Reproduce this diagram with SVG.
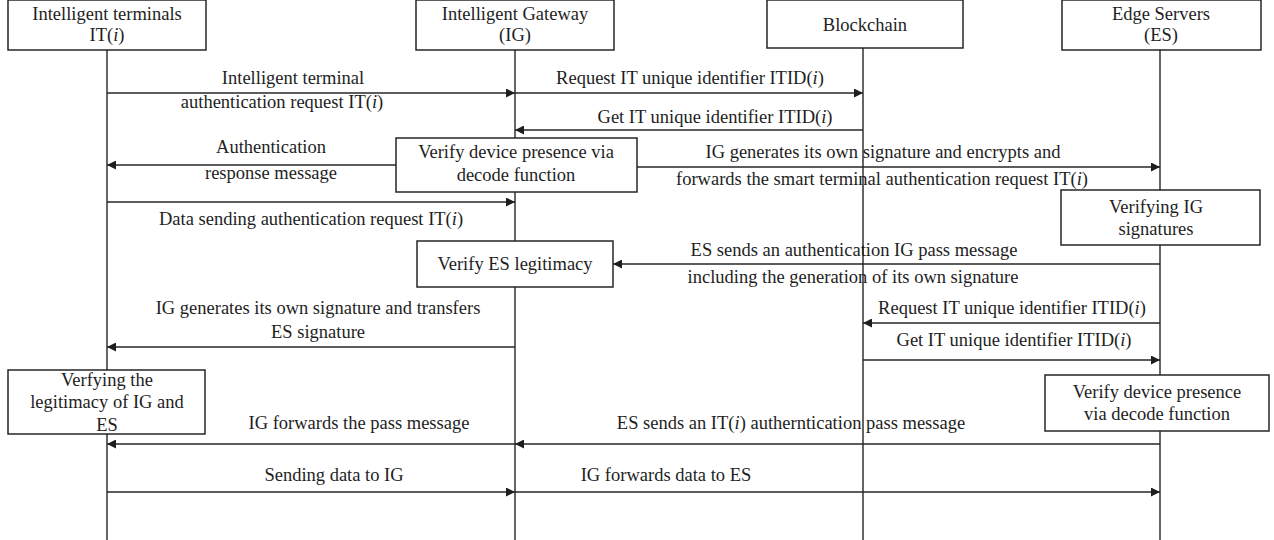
<svg xmlns="http://www.w3.org/2000/svg" width="1274" height="540" viewBox="0 0 1274 540">
  <defs>
    <style>
      .box { fill: #ffffff; stroke: #262626; stroke-width: 1.5; }
      .life { stroke: #333333; stroke-width: 1.5; fill: none; }
      .msg { stroke: #262626; stroke-width: 1.5; fill: none; marker-end: url(#head); }
      text { font-family: "Liberation Serif", "Times New Roman", serif; font-size: 18.5px; fill: #1e1e1e; text-anchor: middle; }
      .it { font-style: italic; }
    </style>
    <marker id="head" viewBox="0 0 10 10" refX="10" refY="5" markerWidth="9" markerHeight="9" markerUnits="userSpaceOnUse" orient="auto">
      <path d="M0,0 L10,5 L0,10 z" fill="#1e1e1e"/>
    </marker>
  </defs>

  <rect width="1274" height="540" fill="#ffffff"/>

  <!-- lifelines -->
  <g id="lifelines">
    <line class="life" x1="107" y1="50" x2="107" y2="540"/>
    <line class="life" x1="515" y1="50" x2="515" y2="540"/>
    <line class="life" x1="863" y1="48" x2="863" y2="540"/>
    <line class="life" x1="1160" y1="50" x2="1160" y2="540"/>
  </g>

  <!-- participants -->
  <g id="it-terminals">
    <rect class="box" x="8" y="0" width="198" height="50"/>
    <text x="107" y="20">Intelligent terminals</text>
    <text x="107" y="41">IT(<tspan class="it">i</tspan>)</text>
  </g>
  <g id="ig-gateway">
    <rect class="box" x="416" y="0" width="198" height="50"/>
    <text x="515" y="20">Intelligent Gateway</text>
    <text x="515" y="41">(IG)</text>
  </g>
  <g id="blockchain">
    <rect class="box" x="767" y="0" width="196" height="48"/>
    <text x="865" y="31">Blockchain</text>
  </g>
  <g id="edge-servers">
    <rect class="box" x="1062" y="0" width="199" height="50"/>
    <text x="1161" y="20">Edge Servers</text>
    <text x="1161" y="41">(ES)</text>
  </g>

  <!-- messages -->
  <g id="connectors">
    <line class="msg" x1="107" y1="93" x2="515" y2="93"/>
    <line class="msg" x1="515" y1="93" x2="863" y2="93"/>
    <line class="msg" x1="863" y1="130" x2="515" y2="130"/>
    <line class="msg" x1="396" y1="165" x2="107" y2="165"/>
    <line class="msg" x1="637" y1="167" x2="1160" y2="167"/>
    <line class="msg" x1="107" y1="202" x2="515" y2="202"/>
    <line class="msg" x1="1160" y1="264" x2="613" y2="264"/>
    <line class="msg" x1="515" y1="347" x2="107" y2="347"/>
    <line class="msg" x1="1160" y1="323" x2="863" y2="323"/>
    <line class="msg" x1="863" y1="360" x2="1160" y2="360"/>
    <line class="msg" x1="1160" y1="444" x2="515" y2="444"/>
    <line class="msg" x1="515" y1="444" x2="107" y2="444"/>
    <line class="msg" x1="107" y1="492" x2="515" y2="492"/>
    <line class="msg" x1="515" y1="492" x2="1160" y2="492"/>
  </g>

  <!-- message labels -->
  <g id="labels">
    <text x="293" y="84">Intelligent terminal</text>
    <text x="282" y="108">authentication request IT(<tspan class="it">i</tspan>)</text>
    <text x="690" y="84">Request IT unique identifier ITID(<tspan class="it">i</tspan>)</text>
    <text x="715" y="123">Get IT unique identifier ITID(<tspan class="it">i</tspan>)</text>
    <text x="271" y="153">Authentication</text>
    <text x="271" y="179">response message</text>
    <text x="883" y="158">IG generates its own signature and encrypts and</text>
    <text x="882" y="185">forwards the smart terminal authentication request IT(<tspan class="it">i</tspan>)</text>
    <text x="311" y="225">Data sending authentication request IT(<tspan class="it">i</tspan>)</text>
    <text x="854" y="256">ES sends an authentication IG pass message</text>
    <text x="853" y="283">including the generation of its own signature</text>
    <text x="318" y="314">IG generates its own signature and transfers</text>
    <text x="318" y="338">ES signature</text>
    <text x="1012" y="314">Request IT unique identifier ITID(<tspan class="it">i</tspan>)</text>
    <text x="1014" y="346">Get IT unique identifier ITID(<tspan class="it">i</tspan>)</text>
    <text x="359" y="429">IG forwards the pass message</text>
    <text x="791" y="429">ES sends an IT(<tspan class="it">i</tspan>) autherntication pass message</text>
    <text x="334" y="481">Sending data to IG</text>
    <text x="666" y="481">IG forwards data to ES</text>
  </g>

  <!-- activity boxes -->
  <g id="ig-verify-device">
    <rect class="box" x="396" y="138" width="241" height="54"/>
    <text x="516" y="158">Verify device presence via</text>
    <text x="516" y="181">decode function</text>
  </g>
  <g id="es-verify-ig">
    <rect class="box" x="1061" y="190" width="199" height="55"/>
    <text x="1156" y="213">Verifying IG</text>
    <text x="1156" y="235">signatures</text>
  </g>
  <g id="ig-verify-es">
    <rect class="box" x="417" y="241" width="196" height="46"/>
    <text x="515" y="270">Verify ES legitimacy</text>
  </g>
  <g id="it-verify-ig-es">
    <rect class="box" x="8" y="370" width="197" height="64"/>
    <text x="107" y="386">Verfying the</text>
    <text x="107" y="408">legitimacy of IG and</text>
    <text x="107" y="431">ES</text>
  </g>
  <g id="es-verify-device">
    <rect class="box" x="1045" y="375" width="224" height="56"/>
    <text x="1157" y="398">Verify device presence</text>
    <text x="1157" y="420">via decode function</text>
  </g>
</svg>
